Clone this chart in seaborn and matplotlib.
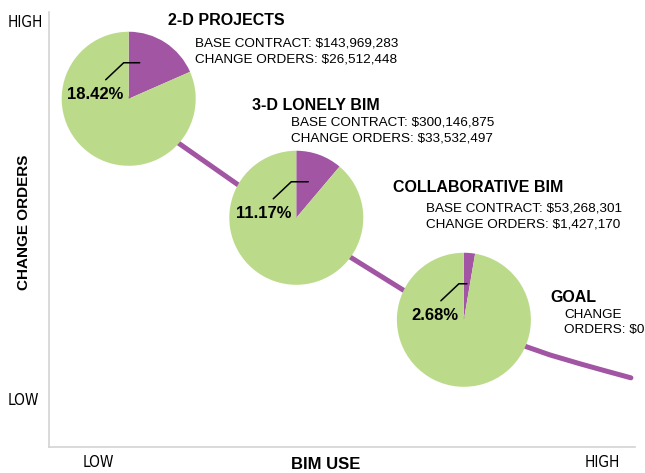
import matplotlib
matplotlib.use("Agg")
import matplotlib.pyplot as plt
from matplotlib import font_manager
import seaborn as sns

# stages of BIM use, with their share of change orders
stages = ["2-D PROJECTS", "3-D LONELY BIM", "COLLABORATIVE BIM"]
base_contract = ["$143,969,283", "$300,146,875", "$53,268,301"]
change_orders = ["$26,512,448", "$33,532,497", "$1,427,170"]
change_pct = [18.42, 11.17, 2.68]

# stage positions on the (BIM use, change orders) plane, 0-100 scale
stage_bim_use = [13.6, 42.2, 70.8]
stage_change_level = [59.4, 39.1, 21.7]

# trend curve
curve_bim_use = [13.6, 22.0, 32.3, 42.2, 51.4, 60.4, 70.8, 81.2, 85.5, 90.6, 94.9, 99.3]
curve_change_level = [59.4, 51.9, 44.7, 38.7, 32.4, 26.8, 21.8, 17.2, 15.7, 14.2, 13.0, 11.8]

axis_labels = ["LOW", "HIGH"]

PURPLE = "#A155A3"
GREEN = "#BBDB8B"

sns.set_style("white")
plt.rcParams["font.family"] = ["Liberation Sans", "DejaVu Sans"]
plt.rcParams["text.color"] = "black"
plt.rcParams["axes.labelcolor"] = "black"
plt.rcParams["xtick.color"] = "black"
plt.rcParams["ytick.color"] = "black"

# a condensed face for the LOW / HIGH ticks, if there is one
tick_font = font_manager.FontProperties(family="Liberation Sans", size=10.5)
for f in font_manager.fontManager.ttflist:
    if ("Narrow" in f.name or f.stretch in ("condensed", "semi-condensed")) \
            and f.style == "normal" and f.weight in (400, "normal", "regular"):
        tick_font = font_manager.FontProperties(fname=f.fname, size=11)
        break

fig = plt.figure(figsize=(6.45, 4.73), dpi=100)
ax = fig.add_axes([49 / 645, 26 / 473, 586 / 645, 435 / 473])

sns.lineplot(x=curve_bim_use, y=curve_change_level, color=PURPLE, lw=3.6,
             ax=ax, zorder=1)

px = 100 / 586  # data units per pixel
radius = 67 * px
leader_end = [11, 12, 3]
title_off = [(39, 74), (-44, 108), (-71, 128)]
body_off = [(66, 52), (-5, 92), (-38, 108)]

for i, pct in enumerate(change_pct):
    cx, cy = stage_bim_use[i], stage_change_level[i]
    wedges, _ = ax.pie([pct, 100 - pct], colors=[PURPLE, GREEN], center=(cx, cy),
                       radius=radius, startangle=90, counterclock=False, frame=True,
                       wedgeprops=dict(linewidth=0, edgecolor="none"))
    for w in wedges:
        w.set_zorder(2)
    lx = [cx - 23 * px, cx - 5 * px, cx + leader_end[i] * px]
    ly = [cy + 19 * px, cy + 36 * px, cy + 36 * px]
    ax.plot(lx, ly, color="black", lw=1.1, zorder=3)
    ax.annotate(f"{pct:.2f}%", xy=(cx, cy), xytext=(-5, 0), textcoords="offset pixels",
                ha="right", va="baseline", fontsize=12, fontweight="bold", zorder=4)
    ax.annotate(stages[i], xy=(cx, cy), xytext=title_off[i], textcoords="offset pixels",
                ha="left", va="baseline", fontsize=11.5, fontweight="bold")
    bx, by = body_off[i]
    ax.annotate(f"BASE CONTRACT: {base_contract[i]}", xy=(cx, cy), xytext=(bx, by),
                textcoords="offset pixels", ha="left", va="baseline", fontsize=9.7)
    ax.annotate(f"CHANGE ORDERS: {change_orders[i]}", xy=(cx, cy), xytext=(bx, by - 16),
                textcoords="offset pixels", ha="left", va="baseline", fontsize=9.7)

ax.text(85.6, 24.7, "GOAL", ha="left", va="baseline", fontsize=11.5, fontweight="bold")
ax.text(87.9, 22.0, "CHANGE", ha="left", va="baseline", fontsize=9.7)
ax.text(87.9, 19.5, "ORDERS: $0", ha="left", va="baseline", fontsize=9.7)

ax.set_xlim(0, 100)
ax.set_ylim(0, 74.2)
ax.set_aspect("auto")
ax.set_position([49 / 645, 26 / 473, 586 / 645, 435 / 473])

ax.set_xticks([8.4, 94.5])
ax.set_xticklabels(axis_labels, fontproperties=tick_font)
ax.set_yticks([8.2, 72.7])
ax.set_yticklabels(axis_labels, fontproperties=tick_font)
ax.tick_params(axis="x", length=0, pad=6)
ax.tick_params(axis="y", length=0, pad=29.5)
for lab in ax.get_yticklabels():
    lab.set_horizontalalignment("left")

ax.set_xlabel("BIM USE", fontsize=12, fontweight="bold")
ax.xaxis.set_label_coords(0.473, -0.022)
ax.set_ylabel("CHANGE ORDERS", fontsize=11, fontweight="bold")
ax.yaxis.set_label_coords(-0.030, 0.517)

for side in ["top", "right"]:
    ax.spines[side].set_visible(False)
for side in ["left", "bottom"]:
    ax.spines[side].set_color("#D3D3D3")
    ax.spines[side].set_linewidth(1.2)

fig.savefig("out.png", dpi=100)
